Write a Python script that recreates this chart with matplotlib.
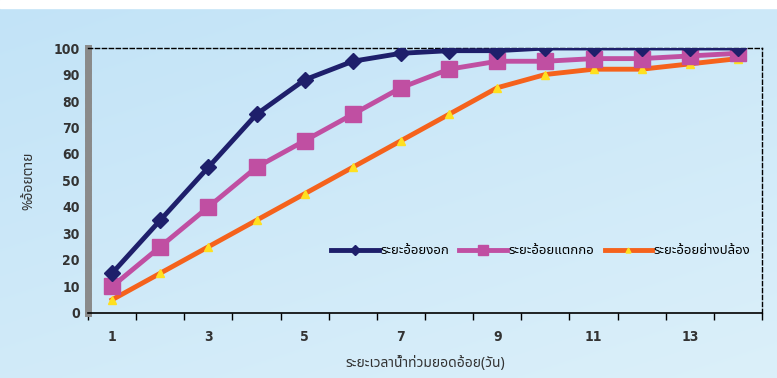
import matplotlib
matplotlib.use('Agg')
import matplotlib.pyplot as plt
import numpy as np
from matplotlib import font_manager
from matplotlib.ft2font import FT2Font

# หา font ที่มีตัวอักษรไทย
thai_font = None
names = []
for f in font_manager.fontManager.ttflist:
    try:
        ft = FT2Font(f.fname)
        if ft.get_char_index(ord('อ')) != 0:
            names.append(f.name)
    except Exception:
        pass
names = sorted(set(names))
for pref in ['Noto Sans Thai', 'Noto Sans Thai Looped', 'Loma', 'Garuda', 'Waree', 'Tlwg Typo']:
    if pref in names:
        thai_font = pref
        break
if thai_font is None and names:
    thai_font = names[0]
fam = [thai_font, 'DejaVu Sans'] if thai_font else ['DejaVu Sans']

days = list(range(1, 15))
ngok = [15, 35, 55, 75, 88, 95, 98, 99, 99, 100, 100, 100, 100, 100]
taekkor = [10, 25, 40, 55, 65, 75, 85, 92, 95, 95, 96, 96, 97, 98]
yangplong = [5, 15, 25, 35, 45, 55, 65, 75, 85, 90, 92, 92, 94, 96]
labels = ['ระยะอ้อยงอก', 'ระยะอ้อยแตกกอ', 'ระยะอ้อยย่างปล้อง']

fig = plt.figure(figsize=(7.77, 3.78), dpi=100)

# พื้นหลังฟ้าอ่อน
bg = fig.add_axes([0, 0, 1, 1], zorder=-1)
yy = np.linspace(0, 1, 200)[:, None]
xx = np.linspace(0, 1, 300)[None, :]
top = np.array([0.76, 0.89, 0.97])
low = np.array([0.86, 0.94, 0.98])
w = (0.6 * yy + 0.4 * xx)
img = top[None, None, :] * (1 - w[..., None]) + low[None, None, :] * w[..., None]
bg.imshow(img, aspect='auto', extent=[0, 1, 0, 1])
bg.axhspan(0.98, 1, color='white')
bg.set_xlim(0, 1)
bg.set_ylim(0, 1)
bg.axis('off')

ax = fig.add_axes([0.1133, 0.172, 0.8674, 0.701])
ax.patch.set_alpha(0)

ax.plot(days, ngok, color='#1e1f6b', lw=3.5, marker='D', ms=8, label=labels[0], zorder=4)
ax.plot(days, taekkor, color='#c04fa2', lw=3.5, marker='s', ms=11, label=labels[1], zorder=3)
ax.plot(days, yangplong, color='#f5621c', lw=3.5, marker='^', ms=6,
        mfc='#ffe020', mec='#ffe020', label=labels[2], zorder=2)

ax.set_xlim(0.5, 14.5)
ax.set_ylim(0, 100)
ax.set_yticks(range(0, 101, 10))
ax.set_xticks(np.arange(0.5, 14.6, 1))
ax.set_xticklabels([])
ax.set_xticks(range(1, 15, 2), minor=True)
ax.set_xticklabels([str(d) for d in range(1, 15, 2)], minor=True)
ax.tick_params(axis='x', which='major', length=5, width=1, direction='out')
ax.tick_params(axis='x', which='minor', length=0, pad=12)
ax.tick_params(axis='y', length=0, pad=6)
for t in ax.get_xticklabels(minor=True) + ax.get_yticklabels():
    t.set_fontsize(10)
    t.set_fontweight('bold')
    t.set_color('#333333')
    t.set_fontstretch('condensed')

ax.spines['left'].set_linewidth(5)
ax.spines['left'].set_color('#8a8a8a')
ax.spines['left'].set_linestyle((0, (1, 0.4)))
ax.spines['top'].set_linestyle((0, (3, 2)))
ax.spines['right'].set_linestyle((0, (3, 2)))
ax.spines['top'].set_linewidth(1)
ax.spines['right'].set_linewidth(1)
ax.spines['bottom'].set_linewidth(1.2)

ax.set_ylabel('%อ้อยตาย', family=fam, fontsize=10, fontweight='bold', color='#333333', labelpad=12)
ax.set_xlabel('ระยะเวลาน้ำท่วมยอดอ้อย(วัน)', family=fam, fontsize=10, color='#333333', labelpad=9)

leg = ax.legend(loc='lower right', bbox_to_anchor=(1.0, 0.165), ncol=3, frameon=False,
                handlelength=3.6, handletextpad=0.1, columnspacing=0.8,
                prop={'family': fam, 'size': 9.5}, markerscale=0.6)

fig.savefig('out.png', dpi=100)
